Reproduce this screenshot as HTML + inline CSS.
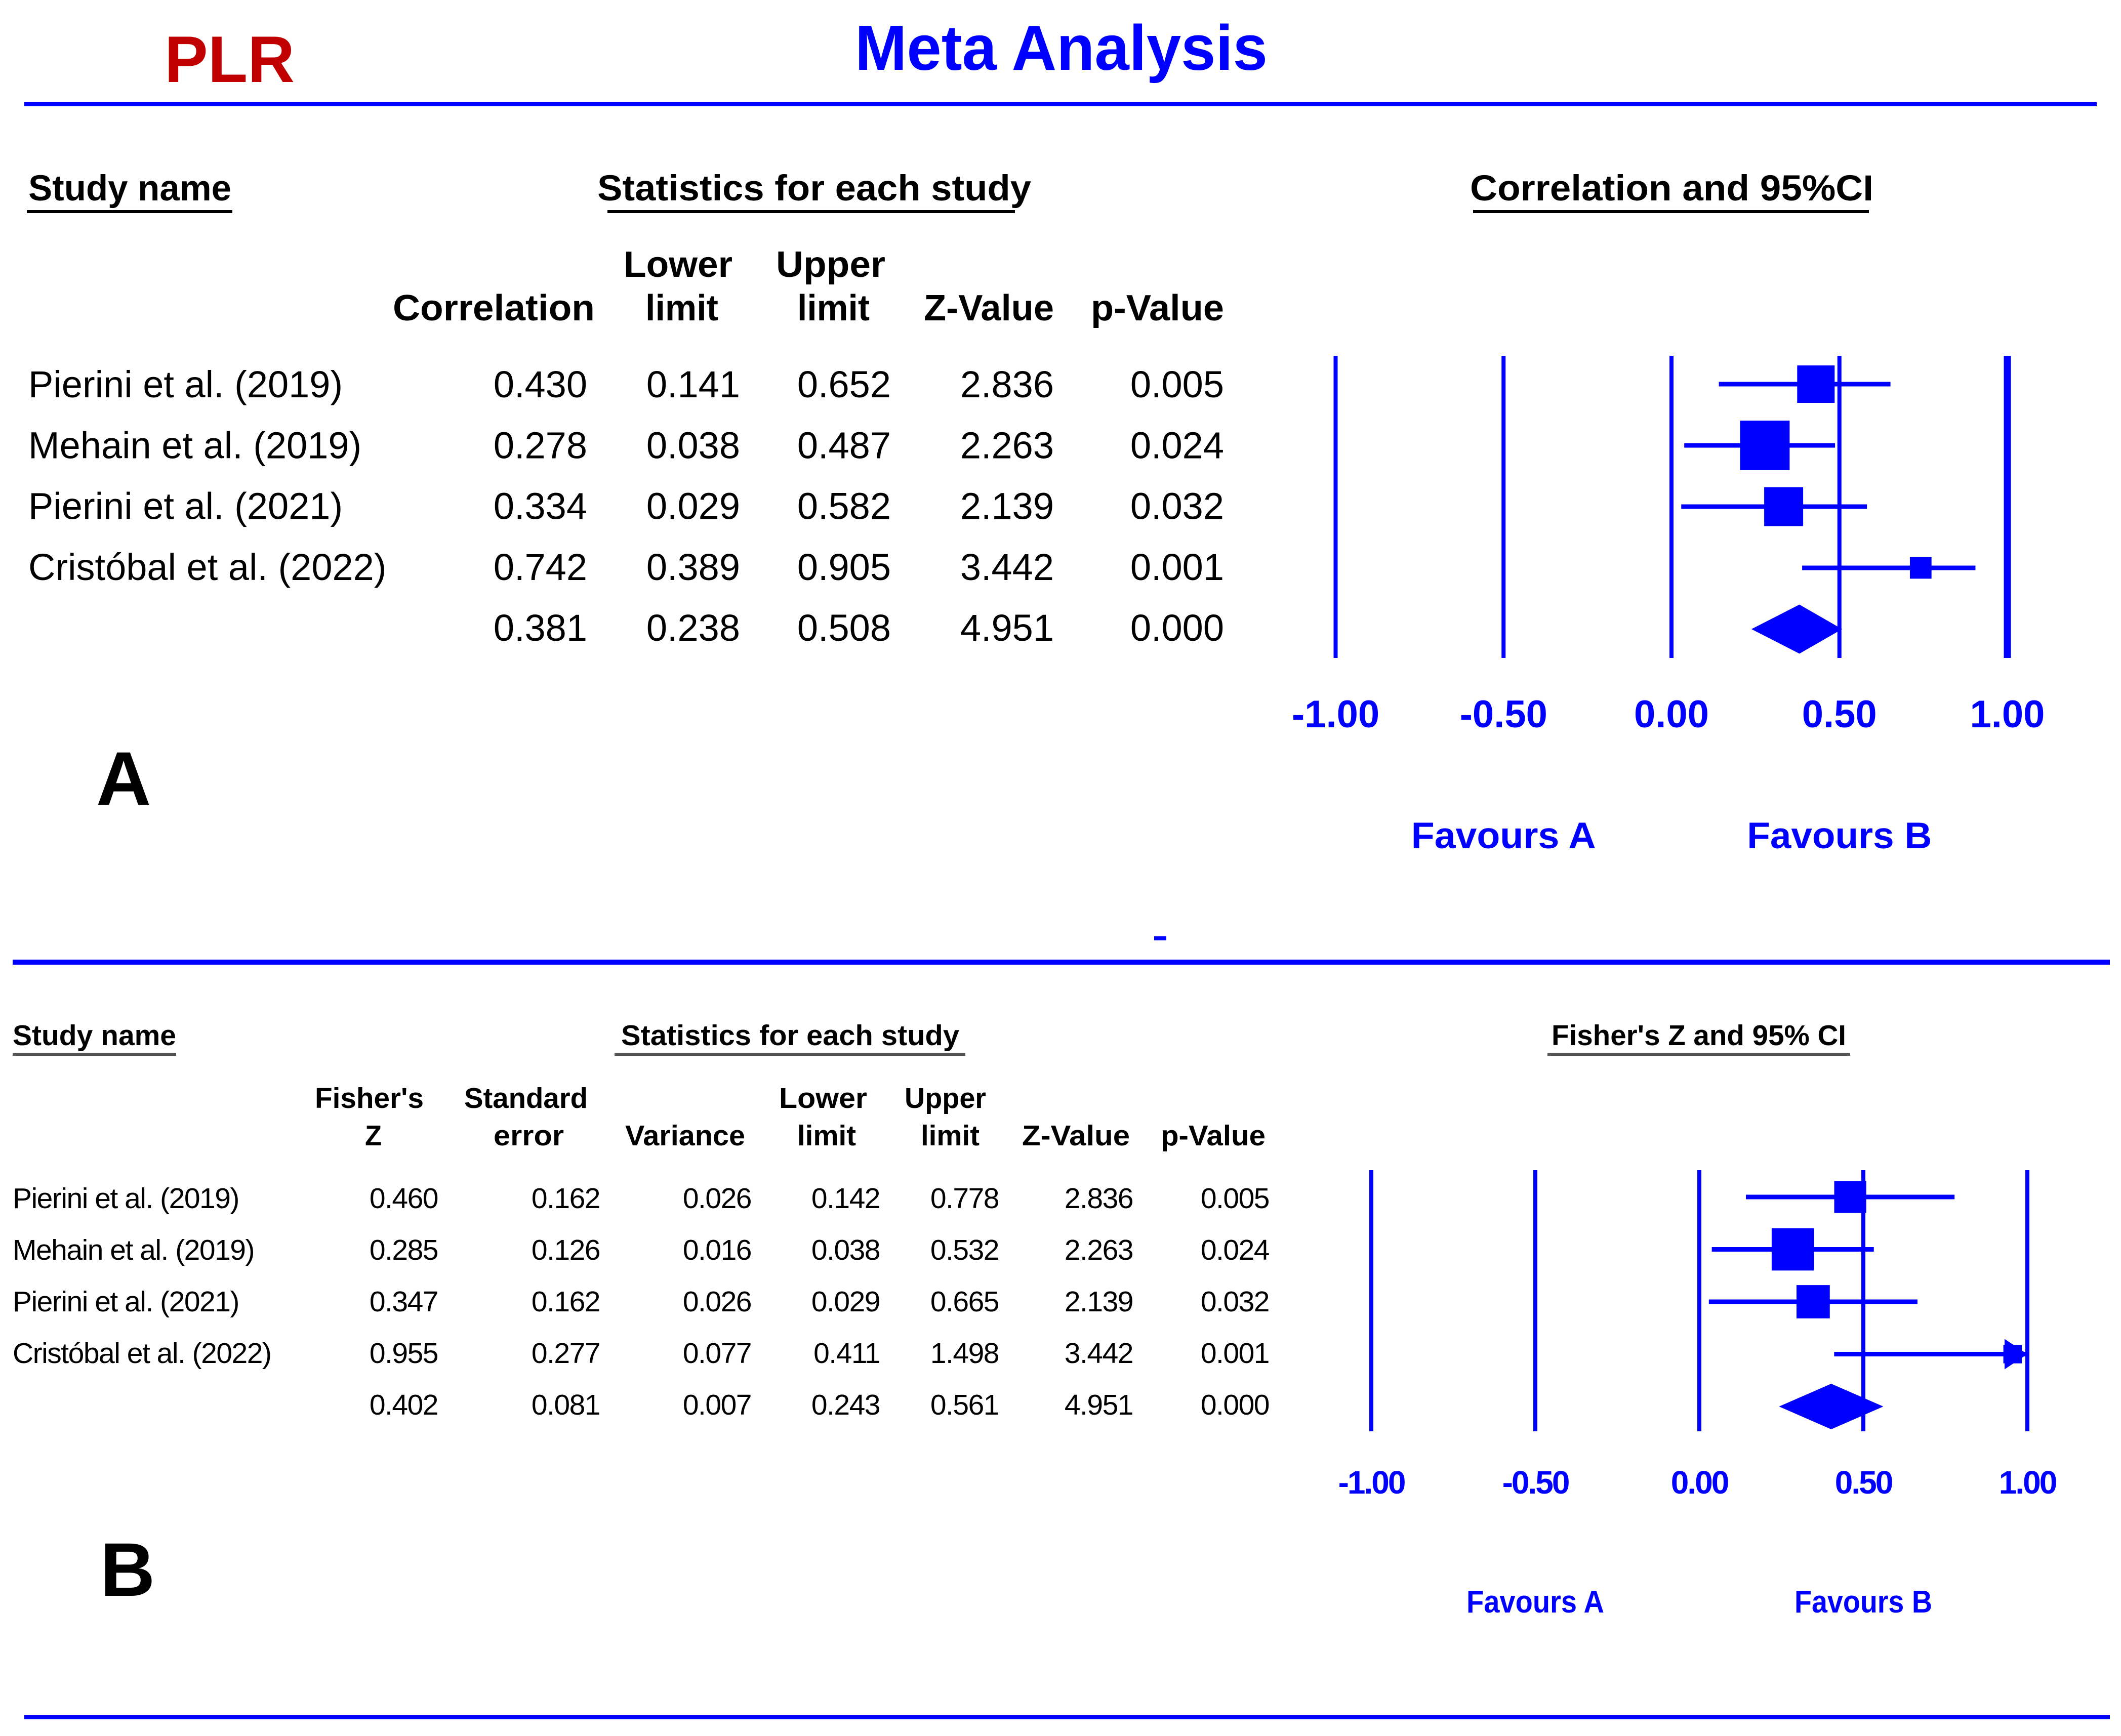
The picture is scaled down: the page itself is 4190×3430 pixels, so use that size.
<!DOCTYPE html>
<html>
<head>
<meta charset="utf-8">
<style>
html,body{margin:0;padding:0;background:#fff;}
svg{display:block;}
text{font-family:"Liberation Sans",Arial,sans-serif;}
</style>
</head>
<body>
<svg id="fig" width="4190" height="3430" viewBox="0 0 4190 3430" xmlns="http://www.w3.org/2000/svg">
  <rect x="0" y="0" width="4190" height="3430" fill="#fff"/>
  <text x="325" y="162" font-size="130" font-weight="bold" fill="#c00000" textLength="257" lengthAdjust="spacingAndGlyphs">PLR</text>
  <text x="1689" y="138" font-size="126" font-weight="bold" fill="#0000ff" textLength="815" lengthAdjust="spacingAndGlyphs">Meta Analysis</text>
  <rect x="48" y="202" width="4094" height="8" fill="#0000ff"/>

  <g font-weight="bold" fill="#000">
    <text x="56" y="396" font-size="71" textLength="401" lengthAdjust="spacingAndGlyphs">Study name</text>
    <rect x="53" y="415" width="406" height="6" fill="#000"/>
    <text x="1180" y="396" font-size="71" textLength="857" lengthAdjust="spacingAndGlyphs">Statistics for each study</text>
    <rect x="1200" y="415" width="805" height="6" fill="#000"/>
    <text x="2904" y="396" font-size="71" textLength="797" lengthAdjust="spacingAndGlyphs">Correlation and 95%CI</text>
    <rect x="2910" y="415" width="782" height="6" fill="#000"/>
    <text x="776" y="633" font-size="72" textLength="399" lengthAdjust="spacingAndGlyphs">Correlation</text>
    <text x="1232" y="547" font-size="72" textLength="215" lengthAdjust="spacingAndGlyphs">Lower</text>
    <text x="1275" y="633" font-size="72" textLength="144" lengthAdjust="spacingAndGlyphs">limit</text>
    <text x="1533" y="547" font-size="72" textLength="216" lengthAdjust="spacingAndGlyphs">Upper</text>
    <text x="1575" y="633" font-size="72" textLength="143" lengthAdjust="spacingAndGlyphs">limit</text>
    <text x="1825" y="633" font-size="72" textLength="257" lengthAdjust="spacingAndGlyphs">Z-Value</text>
    <text x="2155" y="633" font-size="72" textLength="263" lengthAdjust="spacingAndGlyphs">p-Value</text>
  </g>
  <g id="tableA"></g>
  <g id="forestA"></g>
  <text x="190" y="1590" font-size="150" font-weight="bold" fill="#000">A</text>

  <rect x="2280" y="1850" width="24" height="8" fill="#0000ff"/>
  <rect x="25" y="1896" width="4143" height="10" fill="#0000ff"/>

  <g font-weight="bold" fill="#000">
    <text x="25" y="2065" font-size="57" textLength="323" lengthAdjust="spacingAndGlyphs">Study name</text>
    <rect x="25" y="2080" width="323" height="6" fill="#555"/>
    <text x="1227" y="2065" font-size="57" textLength="668" lengthAdjust="spacingAndGlyphs">Statistics for each study</text>
    <rect x="1214" y="2080" width="693" height="6" fill="#555"/>
    <text x="3065" y="2065" font-size="57" textLength="582" lengthAdjust="spacingAndGlyphs">Fisher's Z and 95% CI</text>
    <rect x="3057" y="2080" width="598" height="6" fill="#555"/>
    <text x="622" y="2189" font-size="57" textLength="215" lengthAdjust="spacingAndGlyphs">Fisher's</text>
    <text x="721" y="2263" font-size="57" textLength="33" lengthAdjust="spacingAndGlyphs">Z</text>
    <text x="917" y="2189" font-size="57" textLength="244" lengthAdjust="spacingAndGlyphs">Standard</text>
    <text x="975" y="2263" font-size="57" textLength="139" lengthAdjust="spacingAndGlyphs">error</text>
    <text x="1235" y="2263" font-size="57" textLength="237" lengthAdjust="spacingAndGlyphs">Variance</text>
    <text x="1539" y="2189" font-size="57" textLength="174" lengthAdjust="spacingAndGlyphs">Lower</text>
    <text x="1575" y="2263" font-size="57" textLength="116" lengthAdjust="spacingAndGlyphs">limit</text>
    <text x="1787" y="2189" font-size="57" textLength="161" lengthAdjust="spacingAndGlyphs">Upper</text>
    <text x="1819" y="2263" font-size="57" textLength="116" lengthAdjust="spacingAndGlyphs">limit</text>
    <text x="2019" y="2263" font-size="57" textLength="213" lengthAdjust="spacingAndGlyphs">Z-Value</text>
    <text x="2293" y="2263" font-size="57" textLength="207" lengthAdjust="spacingAndGlyphs">p-Value</text>
  </g>
  <g id="tableB"></g>
  <g id="forestB"></g>
  <text x="198" y="3153" font-size="150" font-weight="bold" fill="#000">B</text>

  <rect x="48" y="3389" width="4120" height="8" fill="#0000ff"/>
</svg>
<script>
const studies = ["Pierini et al. (2019)", "Mehain et al. (2019)", "Pierini et al. (2021)", "Cristóbal et al. (2022)"];
const corrA = [0.430, 0.278, 0.334, 0.742];
const lowerA = [0.141, 0.038, 0.029, 0.389];
const upperA = [0.652, 0.487, 0.582, 0.905];
const zValues = [2.836, 2.263, 2.139, 3.442];
const pValues = [0.005, 0.024, 0.032, 0.001];
const weights = [24, 42, 26, 8];
const summaryA = [0.381, 0.238, 0.508, 4.951, 0.000];

const fisherZ = [0.460, 0.285, 0.347, 0.955];
const seB = [0.162, 0.126, 0.162, 0.277];
const varB = [0.026, 0.016, 0.026, 0.077];
const lowerB = [0.142, 0.038, 0.029, 0.411];
const upperB = [0.778, 0.532, 0.665, 1.498];
const summaryB = [0.402, 0.081, 0.007, 0.243, 0.561, 4.951, 0.000];

const tickValues = [-1, -0.5, 0, 0.5, 1];
const tickLabels = ["-1.00", "-0.50", "0.00", "0.50", "1.00"];

const NS = "http://www.w3.org/2000/svg";
function mk(tag, attrs, parent) {
  const e = document.createElementNS(NS, tag);
  for (const k in attrs) e.setAttribute(k, attrs[k]);
  parent.appendChild(e);
  return e;
}
const BLUE = "#0000ff";

const tA = document.getElementById("tableA");
const rowYA = i => 785 + i * 120.3;
const colRightA = [1160, 1462, 1760, 2082, 2418];
studies.forEach((s, i) => {
  const t = mk("text", {x: 56, y: rowYA(i), "font-size": 74, fill: "#000"}, tA);
  
  
  t.textContent = s;
  const vals = [corrA[i], lowerA[i], upperA[i], zValues[i], pValues[i]];
  vals.forEach((v, j) => {
    const c = mk("text", {x: colRightA[j], y: rowYA(i), "font-size": 74, "text-anchor": "end", fill: "#000"}, tA);
    
    
    c.textContent = v.toFixed(3);
  });
});
summaryA.forEach((v, j) => {
  const c = mk("text", {x: colRightA[j], y: rowYA(4), "font-size": 74, "text-anchor": "end", fill: "#000"}, tA);
  
  
  c.textContent = v.toFixed(3);
});

const tB = document.getElementById("tableB");
const rowYB = i => 2387 + i * 102;
const colRightB = [865, 1185, 1484, 1738, 1973, 2238, 2507];
studies.forEach((s, i) => {
  const t = mk("text", {x: 25, y: rowYB(i), "font-size": 57, fill: "#000", "letter-spacing": -1.5}, tB);
  
  
  t.textContent = s;
  const vals = [fisherZ[i], seB[i], varB[i], lowerB[i], upperB[i], zValues[i], pValues[i]];
  vals.forEach((v, j) => {
    const c = mk("text", {x: colRightB[j], y: rowYB(i), "font-size": 57, "text-anchor": "end", fill: "#000", "letter-spacing": -1.5}, tB);
    
    
    c.textContent = v.toFixed(3);
  });
});
summaryB.forEach((v, j) => {
  const c = mk("text", {x: colRightB[j], y: rowYB(4), "font-size": 57, "text-anchor": "end", fill: "#000", "letter-spacing": -1.5}, tB);
  
  
  c.textContent = v.toFixed(3);
});

function forest(g, cfg, est, lo, hi, sum) {
  const x = v => cfg.x0 + cfg.unit * v;
  const xmax = x(1);
  tickValues.forEach((v, i) => {
    const w = (i === tickValues.length - 1) ? cfg.lastW : cfg.lineW;
    const l = mk("rect", {x: x(v) - w / 2, y: cfg.top, width: w, height: cfg.bottom - cfg.top, fill: BLUE}, g);
    
    
    const t = mk("text", {x: x(v), y: cfg.tickY, "font-size": cfg.tickFs, "font-weight": "bold", fill: BLUE, "text-anchor": "middle", "letter-spacing": cfg.ls}, g);
    
    
    t.textContent = tickLabels[i];
  });
  est.forEach((e, i) => {
    const cy = cfg.rowY(i);
    const x1 = x(lo[i]), x2 = Math.min(x(hi[i]), xmax);
    const ci = mk("rect", {x: x1, y: cy - cfg.ciW / 2, width: x2 - x1, height: cfg.ciW, fill: BLUE}, g);
    
    
    const side = cfg.k * Math.sqrt(weights[i]);
    if (x(hi[i]) > xmax) {
      const ar = mk("polygon", {points: `${xmax},${cy} ${xmax - 45},${cy - 30} ${xmax - 45},${cy + 30}`, fill: BLUE}, g);
      
      
    }
    const sq = mk("rect", {x: x(e) - side / 2, y: cy - side / 2, width: side, height: side, fill: BLUE}, g);
    
    
  });
  const cy = cfg.rowY(4);
  const d = mk("polygon", {points: `${x(sum[1])},${cy} ${x(sum[0])},${cy - cfg.dh / 2} ${x(sum[2])},${cy} ${x(sum[0])},${cy + cfg.dh / 2}`, fill: BLUE}, g);
  
  
  const fa = mk("text", {x: x(-0.5), y: cfg.favY, "font-size": cfg.favFs, "font-weight": "bold", fill: BLUE, "text-anchor": "middle", textLength: cfg.favLen, lengthAdjust: "spacingAndGlyphs"}, g);
  
  
  fa.textContent = "Favours A";
  const fb = mk("text", {x: x(0.5), y: cfg.favY, "font-size": cfg.favFs, "font-weight": "bold", fill: BLUE, "text-anchor": "middle", textLength: cfg.favLen, lengthAdjust: "spacingAndGlyphs"}, g);
  
  
  fb.textContent = "Favours B";
}

forest(document.getElementById("forestA"), {
  x0: 3302, unit: 663.5, top: 703, bottom: 1300, lineW: 8, lastW: 14,
  tickY: 1437, tickFs: 76, ls: 0, rowY: i => 759 + i * 121, ciW: 9, k: 15.1, dh: 97,
  favY: 1676, favFs: 73, favLen: 365
}, corrA, lowerA, upperA, [summaryA[0], summaryA[1], summaryA[2]]);

forest(document.getElementById("forestB"), {
  x0: 3357, unit: 648, top: 2312, bottom: 2828, lineW: 8, lastW: 8,
  tickY: 2951, tickFs: 64, ls: -3, rowY: i => 2365 + i * 103.5, ciW: 9, k: 12.9, dh: 90,
  favY: 3186, favFs: 62, favLen: 272
}, fisherZ, lowerB, upperB, [summaryB[0], summaryB[3], summaryB[4]]);
</script>
</body>
</html>
